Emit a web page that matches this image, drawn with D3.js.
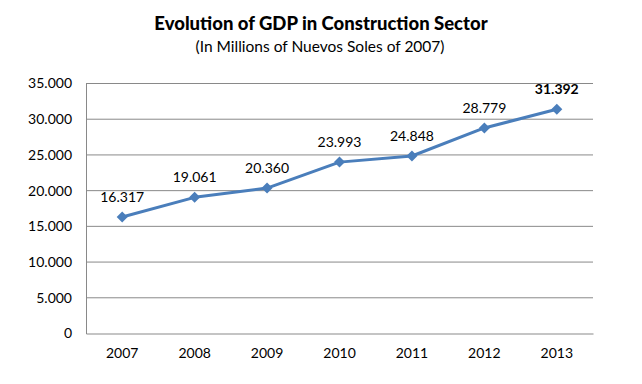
<!DOCTYPE html>
<html>
<head>
  <meta charset="utf-8">
  <script src="https://d3js.org/d3.v7.min.js"></script>
  <style>
    body { margin: 0; background: #fff; }
    text { font-family: Lato, "Open Sans", sans-serif; fill: #000; }
  </style>
</head>
<body>
  <script>
    // chart data
    var years = ["2007", "2008", "2009", "2010", "2011", "2012", "2013"];
    var gdp = [16317, 19061, 20360, 23993, 24848, 28779, 31392];
    var yTicks = [0, 5000, 10000, 15000, 20000, 25000, 30000, 35000];

    var W = 642, H = 384;
    var plotL = 86, plotR = 593, plotT = 83.5, plotB = 333.5;

    var svg = d3.select("body").append("svg")
      .attr("width", W).attr("height", H);

    // thousands with a dot, like the original
    var fmt = function (v) { return d3.format(",")(v).replace(/,/g, "."); };

    var x = d3.scaleBand().domain(years).range([plotL, plotR]);
    var y = d3.scaleLinear().domain([0, 35000]).range([plotB, plotT]);

    // titles
    svg.append("text")
      .attr("x", 321).attr("y", 30)
      .attr("text-anchor", "middle")
      .style("font-size", "18.5px").style("font-weight", "900")
      .text("Evolution of GDP in Construction Sector");
    svg.append("text")
      .attr("x", 320).attr("y", 52)
      .attr("text-anchor", "middle")
      .style("font-size", "15.5px")
      .text("(In Millions of Nuevos Soles of 2007)");

    // gridlines
    svg.append("g").selectAll("line")
      .data(yTicks.slice(1))
      .enter().append("line")
      .attr("x1", plotL).attr("x2", plotR)
      .attr("y1", function (d) { return y(d); })
      .attr("y2", function (d) { return y(d); })
      .attr("stroke", "#898989").attr("stroke-width", 1);

    // y axis
    var yAxis = svg.append("g")
      .attr("transform", "translate(" + plotL + ",0)")
      .call(d3.axisLeft(y).tickValues(yTicks).tickSize(0).tickPadding(14).tickFormat(fmt));
    yAxis.select(".domain").attr("stroke", "#898989");
    yAxis.selectAll("text").style("font-size", "14px")
      .style("font-family", "Lato, 'Open Sans', sans-serif");

    // x axis
    var xAxis = svg.append("g")
      .attr("transform", "translate(0," + plotB + ")")
      .call(d3.axisBottom(x).tickSize(0).tickPadding(15));
    xAxis.select(".domain").attr("stroke", "#898989");
    xAxis.selectAll("text").style("font-size", "14px")
      .style("font-family", "Lato, 'Open Sans', sans-serif");

    var pts = years.map(function (yr, i) { return { year: yr, v: gdp[i] }; });
    var cx = function (d) { return x(d.year) + x.bandwidth() / 2; };

    // line
    svg.append("path")
      .datum(pts)
      .attr("fill", "none")
      .attr("stroke", "#4a7ebb")
      .attr("stroke-width", 3)
      .attr("stroke-linejoin", "round")
      .attr("d", d3.line().x(cx).y(function (d) { return y(d.v); }));

    // diamond markers
    svg.append("g").selectAll("path")
      .data(pts)
      .enter().append("path")
      .attr("transform", function (d) { return "translate(" + cx(d) + "," + y(d.v) + ")"; })
      .attr("d", "M0,-5.5L5.5,0L0,5.5L-5.5,0Z")
      .attr("fill", "#4a7ebb");

    // value labels
    svg.append("g").selectAll("text")
      .data(pts)
      .enter().append("text")
      .attr("x", cx)
      .attr("y", function (d) { return y(d.v) - 15; })
      .attr("text-anchor", "middle")
      .style("font-size", "14px")
      .style("font-weight", function (d, i) { return i === pts.length - 1 ? "bold" : "normal"; })
      .text(function (d) { return fmt(d.v); });
  </script>
</body>
</html>
